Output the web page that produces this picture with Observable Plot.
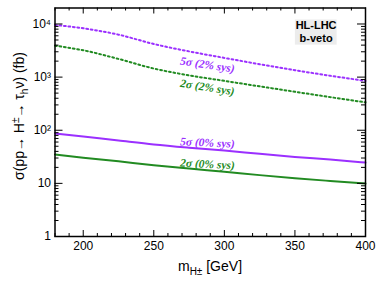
<!DOCTYPE html>
<html>
<head>
<meta charset="utf-8">
<script src="https://cdn.jsdelivr.net/npm/d3@7"></script>
<script src="https://cdn.jsdelivr.net/npm/@observablehq/plot@0.6"></script>
<style>
  html, body { margin: 0; padding: 0; background: #fff; }
  #chart { width: 378px; height: 292px; }
</style>
</head>
<body>
<div id="chart"></div>
<script>
// ---- data ----
const mass = [180, 200, 225, 250, 275, 300, 325, 350, 375, 400];
const sig5_sys2 = [9600, 8300, 6300, 4200, 3050, 2300, 1750, 1350, 1060, 850];
const sig2_sys2 = [3900, 3200, 2200, 1450, 1080, 850, 670, 530, 420, 335];
const sig5_sys0 = [87, 76, 64, 54, 47, 41.5, 36, 31.5, 28, 24.6];
const sig2_sys0 = [35, 30.5, 26, 22, 19, 16.5, 14.3, 12.5, 11.1, 9.9];
const xTicks = [200, 250, 300, 350, 400];
const yTicks = [1, 10, 100, 1000, 10000];
const yTickLabels = ["1", "10", "10\u00B2", "10\u00B3", "10\u2074"];
const seriesNames = ["5\u03C3 (2% sys)", "2\u03C3 (2% sys)", "5\u03C3 (0% sys)", "2\u03C3 (0% sys)"];
const labelX = [288, 288, 288, 288];
const labelY = [1700, 640, 58, 23];
const labelRotate = [8.5, 9, 2.5, 3];
const boxText = ["HL-LHC", "b-veto"];

const purple = "#9b30ff";
const green = "#228b22";
const colors = [purple, green, purple, green];
const dashed = [true, true, false, false];

const allSeries = [sig5_sys2, sig2_sys2, sig5_sys0, sig2_sys0];
const rows = [];
allSeries.forEach((vals, s) => vals.forEach((v, i) => rows.push({series: s, m: mass[i], v})));
const labels = seriesNames.map((t, i) => ({t, x: labelX[i], y: labelY[i], r: labelRotate[i], c: colors[i]}));

const xMinor = d3.range(180, 401, 10).filter(d => !xTicks.includes(d));
const yMinor = [];
for (const dec of [1, 10, 100, 1000]) for (let k = 2; k <= 9; k++) yMinor.push(dec * k);

const W = 378, H = 292, mL = 54.5, mR = 13, mT = 7.5, mB = 56;
const pw = W - mL - mR, ph = H - mT - mB;

const lineMarks = allSeries.map((vals, s) => Plot.line(rows.filter(r => r.series === s), {
  x: "m", y: "v", stroke: colors[s], strokeWidth: 2,
  strokeDasharray: dashed[s] ? "1.8,2.7" : null, curve: "monotone-x"
}));

const plot = Plot.plot({
  width: W, height: H,
  marginLeft: mL, marginRight: mR, marginTop: mT, marginBottom: mB,
  style: {fontFamily: "'Liberation Sans', Arial, sans-serif", fontSize: "12px", color: "#000", background: "#fff"},
  x: {domain: [180, 400], label: null},
  y: {type: "log", domain: [1, 20000], label: null},
  marks: [
    Plot.rect([0], {x1: 350.3, x2: 379.9, y1: 4000, y2: 11900, fill: "#ececec"}),
    Plot.text([boxText[0]], {x: 365, y: 9200, text: d => d, fontWeight: "bold", fontSize: 11, fill: "#000"}),
    Plot.text([boxText[1]], {x: 365, y: 5450, text: d => d, fontWeight: "bold", fontSize: 11, fill: "#000"}),
    ...lineMarks,
    Plot.text(labels, {x: "x", y: "y", text: "t", rotate: "r", fill: "c",
      fontFamily: "'Liberation Serif', 'DejaVu Serif', serif", fontStyle: "italic", fontWeight: "bold", fontSize: 11.5}),
    Plot.tickX(xTicks, {x: d => d, stroke: "#000", strokeWidth: 1, insetTop: ph - 6}),
    Plot.tickX(xTicks, {x: d => d, stroke: "#000", strokeWidth: 1, insetBottom: ph - 6}),
    Plot.tickX(xMinor, {x: d => d, stroke: "#000", strokeWidth: 1, insetTop: ph - 3}),
    Plot.tickX(xMinor, {x: d => d, stroke: "#000", strokeWidth: 1, insetBottom: ph - 3}),
    Plot.tickY(yTicks, {y: d => d, stroke: "#000", strokeWidth: 1, insetRight: pw - 8}),
    Plot.tickY(yTicks, {y: d => d, stroke: "#000", strokeWidth: 1, insetLeft: pw - 8}),
    Plot.tickY(yMinor, {y: d => d, stroke: "#000", strokeWidth: 1, insetRight: pw - 4}),
    Plot.tickY(yMinor, {y: d => d, stroke: "#000", strokeWidth: 1, insetLeft: pw - 4}),
    Plot.axisX({ticks: xTicks, tickSize: 0, tickPadding: 5, label: null, fontSize: 12}),
    Plot.axisY({ticks: yTicks, tickSize: 0, tickPadding: 4, label: null, fontSize: 12,
      tickFormat: d => yTickLabels[yTicks.indexOf(d)]}),
    Plot.frame({stroke: "#000", strokeWidth: 1.5})
  ]
});

const svg = d3.select(plot);
const xt = svg.append("text")
  .attr("x", 210).attr("y", 271)
  .attr("text-anchor", "middle")
  .attr("font-family", "'Liberation Sans', Arial, sans-serif")
  .attr("font-size", 14).attr("fill", "#000");
xt.append("tspan").text("m");
xt.append("tspan").attr("font-size", 10).attr("dy", 4).text("H\u00B1");
xt.append("tspan").attr("dy", -4).text(" [GeV]");

const yt = svg.append("text")
  .attr("transform", "translate(24,116) rotate(-90)")
  .attr("text-anchor", "middle")
  .attr("font-family", "'Liberation Sans', Arial, sans-serif")
  .attr("font-size", 14).attr("fill", "#000");
yt.append("tspan").text("\u03C3(pp\u2192 H");
yt.append("tspan").attr("font-size", 10).attr("dy", -5).text("\u00B1");
yt.append("tspan").attr("dy", 5).text("\u2192 \u03C4");
yt.append("tspan").attr("font-size", 10).attr("dy", 4).text("h");
yt.append("tspan").attr("dy", -4).text("\u03BD) (fb)");

document.getElementById("chart").appendChild(plot);
</script>
</body>
</html>
